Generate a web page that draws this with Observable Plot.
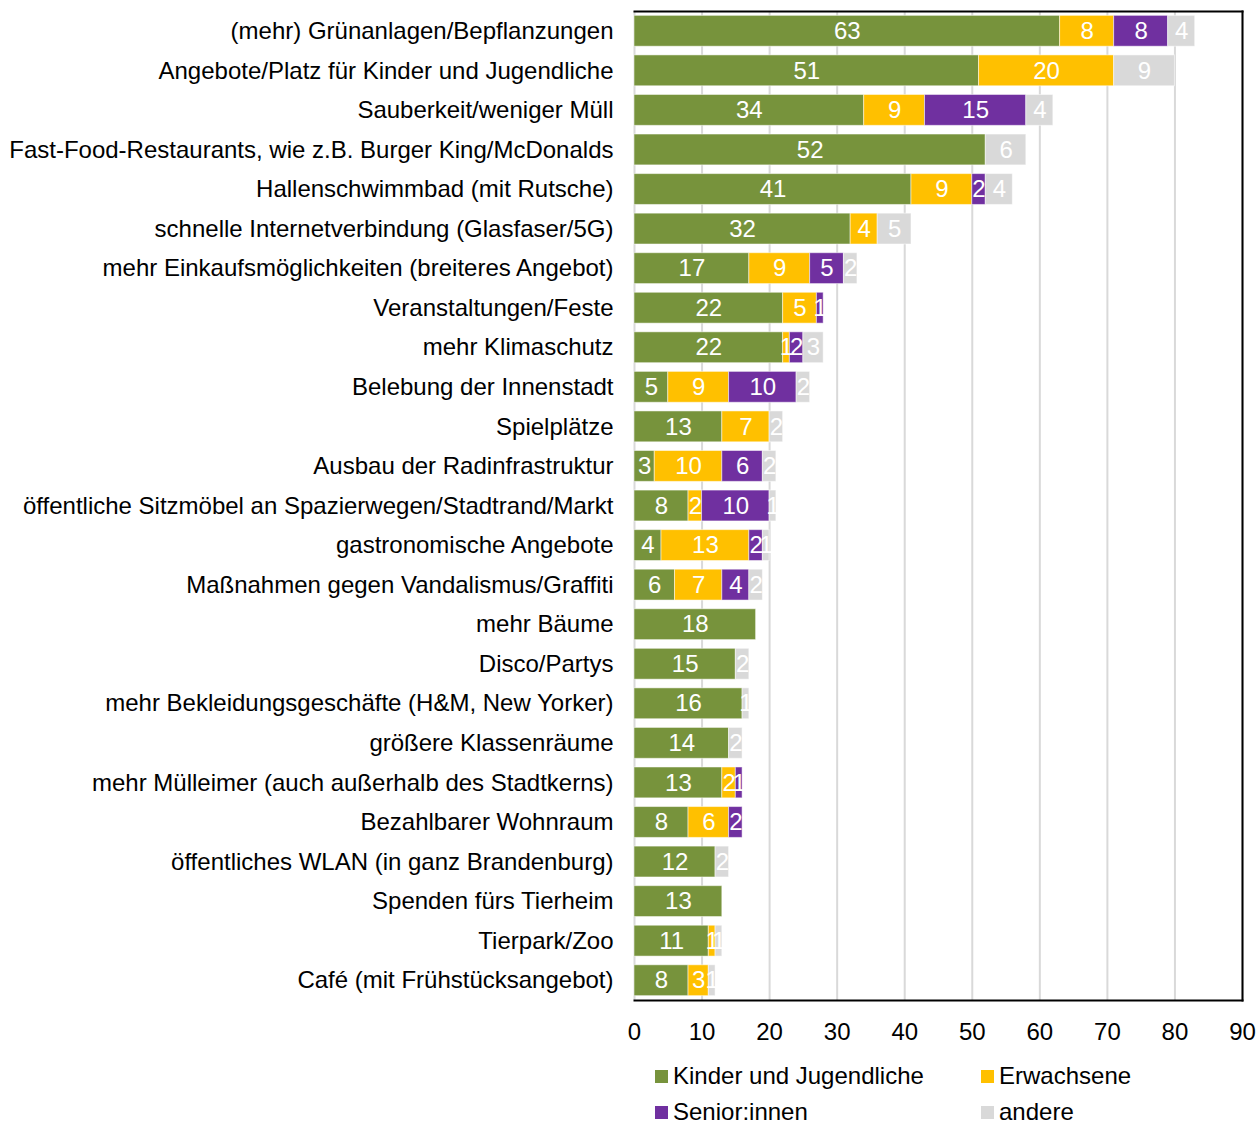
<!DOCTYPE html>
<html>
<head>
<meta charset="utf-8">
<script src="https://cdn.jsdelivr.net/npm/d3@7"></script>
<script src="https://cdn.jsdelivr.net/npm/@observablehq/plot@0.6"></script>
<style>
  body { margin: 0; background: white; font-family: "Liberation Sans", Arial, sans-serif; }
  #wrap { position: relative; width: 1257px; height: 1122px; overflow: hidden; }
  .leg { position: absolute; font-size: 24px; color: #000; white-space: nowrap; line-height: 1; }
  .sw { position: absolute; width: 13px; height: 13px; }
</style>
</head>
<body>
<div id="wrap"></div>
<script>
const categories = [
  "(mehr) Grünanlagen/Bepflanzungen",
  "Angebote/Platz für Kinder und Jugendliche",
  "Sauberkeit/weniger Müll",
  "Fast-Food-Restaurants, wie z.B. Burger King/McDonalds",
  "Hallenschwimmbad (mit Rutsche)",
  "schnelle Internetverbindung (Glasfaser/5G)",
  "mehr Einkaufsmöglichkeiten (breiteres Angebot)",
  "Veranstaltungen/Feste",
  "mehr Klimaschutz",
  "Belebung der Innenstadt",
  "Spielplätze",
  "Ausbau der Radinfrastruktur",
  "öffentliche Sitzmöbel an Spazierwegen/Stadtrand/Markt",
  "gastronomische Angebote",
  "Maßnahmen gegen Vandalismus/Graffiti",
  "mehr Bäume",
  "Disco/Partys",
  "mehr Bekleidungsgeschäfte (H&M, New Yorker)",
  "größere Klassenräume",
  "mehr Mülleimer (auch außerhalb des Stadtkerns)",
  "Bezahlbarer Wohnraum",
  "öffentliches WLAN (in ganz Brandenburg)",
  "Spenden fürs Tierheim",
  "Tierpark/Zoo",
  "Café (mit Frühstücksangebot)"
];
const kinder     = [63, 51, 34, 52, 41, 32, 17, 22, 22, 5, 13, 3, 8, 4, 6, 18, 15, 16, 14, 13, 8, 12, 13, 11, 8];
const erwachsene = [ 8, 20,  9,  0,  9,  4,  9,  5,  1, 9,  7, 10, 2, 13, 7, 0, 0, 0, 0, 2, 6, 0, 0, 1, 3];
const senioren   = [ 8,  0, 15,  0,  2,  0,  5,  1,  2, 10, 0, 6, 10, 2, 4, 0, 0, 0, 0, 1, 2, 0, 0, 0, 0];
const andere     = [ 4,  9,  4,  6,  4,  5,  2,  0,  3, 2,  2, 2, 1, 1, 2, 0, 2, 1, 2, 0, 0, 2, 0, 1, 1];
const seriesNames = ["Kinder und Jugendliche", "Erwachsene", "Senior:innen", "andere"];
const seriesColors = ["#77933C", "#FFC000", "#7030A0", "#D9D9D9"];
const xTicks = [0, 10, 20, 30, 40, 50, 60, 70, 80, 90];

const seriesValues = [kinder, erwachsene, senioren, andere];
const data = [];
categories.forEach((c, i) => {
  seriesNames.forEach((s, j) => {
    data.push({cat: c, series: s, value: seriesValues[j][i]});
  });
});

const chart = Plot.plot({
  width: 1257,
  height: 1050,
  marginLeft: 634,
  marginRight: 15,
  marginTop: 11,
  marginBottom: 50,
  style: {fontFamily: "'Liberation Sans', Arial, sans-serif", fontSize: "24px", color: "#000", background: "white", overflow: "visible"},
  x: {domain: [0, 90], ticks: xTicks, tickSize: 0, tickPadding: 22, label: null, tickFormat: d => d},
  y: {domain: categories, paddingInner: 0.22, paddingOuter: 0.11, round: false, tickSize: 0, tickPadding: 21, label: null},
  color: {domain: seriesNames, range: seriesColors},
  marks: [
    Plot.ruleX(xTicks, {stroke: "#d9d9d9", strokeWidth: 2}),
    Plot.barX(data, {x: "value", y: "cat", fill: "series", order: seriesNames, stroke: "white", strokeOpacity: 0.5, strokeWidth: 1}),
    Plot.text(data, Plot.stackX({
      x: "value", y: "cat", z: "series", order: seriesNames,
      text: d => d.value > 0 ? String(d.value) : null,
      fill: "white", fontSize: 24
    })),
    Plot.frame({anchor: "top", stroke: "#000", strokeWidth: 2}),
    Plot.frame({anchor: "bottom", stroke: "#000", strokeWidth: 2}),
    Plot.frame({anchor: "right", stroke: "#000", strokeWidth: 2})
  ]
});
const wrap = document.getElementById("wrap");
wrap.appendChild(chart);

const legendPos = [
  {x: 655, y: 1076}, {x: 981, y: 1076},
  {x: 655, y: 1112}, {x: 981, y: 1112}
];
seriesNames.forEach((s, i) => {
  const p = legendPos[i];
  const sw = document.createElement("div");
  sw.className = "sw";
  sw.style.left = p.x + "px";
  sw.style.top = (p.y - 6) + "px";
  sw.style.background = seriesColors[i];
  wrap.appendChild(sw);
  const t = document.createElement("div");
  t.className = "leg";
  t.style.left = (p.x + 18) + "px";
  t.style.top = (p.y - 12) + "px";
  t.textContent = s;
  wrap.appendChild(t);
});
</script>
</body>
</html>
